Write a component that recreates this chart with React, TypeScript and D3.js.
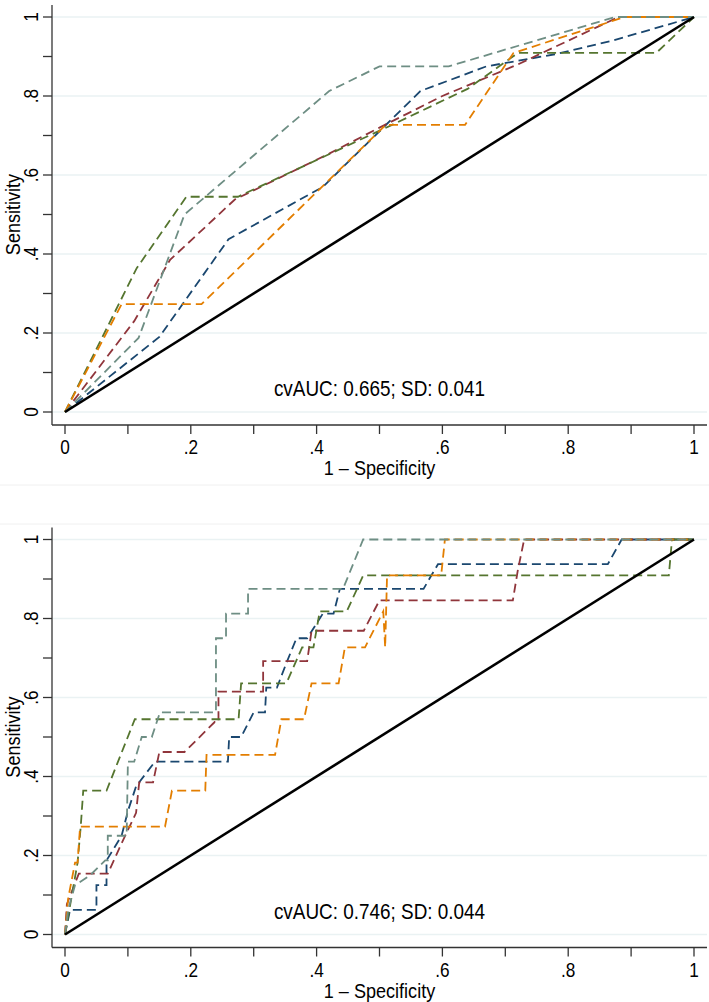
import React from "react";
import * as d3 from "d3";

// ROC curves, [1 - specificity, sensitivity]
const topNavy = [[0, 0], [0.15, 0.19], [0.26, 0.4375], [0.41, 0.57], [0.565, 0.8125], [0.67, 0.875], [0.78, 0.906], [0.87, 0.94], [1, 1]];
const topMaroon = [[0, 0], [0.11, 0.23], [0.167, 0.385], [0.27, 0.538], [0.42, 0.654], [0.5, 0.72], [0.6, 0.8], [0.72, 0.88], [0.88, 1], [1, 1]];
const topGreen = [[0, 0], [0.114, 0.364], [0.193, 0.545], [0.275, 0.545], [0.52, 0.727], [0.64, 0.818], [0.72, 0.909], [0.94, 0.909], [1, 1]];
const topOrange = [[0, 0], [0.09, 0.273], [0.217, 0.273], [0.51, 0.727], [0.636, 0.727], [0.713, 0.909], [0.89, 1], [1, 1]];
const topTeal = [[0, 0], [0.117, 0.1875], [0.19, 0.5], [0.42, 0.8125], [0.5, 0.875], [0.61, 0.875], [0.875, 1], [1, 1]];

const botNavy = [[0, 0], [0.008, 0.0625], [0.05, 0.0625], [0.05, 0.125], [0.066, 0.125], [0.066, 0.1875], [0.09, 0.25], [0.1, 0.3125], [0.113, 0.375], [0.143, 0.4375], [0.259, 0.4375], [0.261, 0.5], [0.28, 0.5], [0.3, 0.5625], [0.318, 0.5625], [0.32, 0.625], [0.337, 0.625], [0.352, 0.6875], [0.368, 0.75], [0.385, 0.75], [0.41, 0.8125], [0.427, 0.8125], [0.437, 0.875], [0.57, 0.875], [0.593, 0.9375], [0.863, 0.9375], [0.885, 1], [1, 1]];
const botMaroon = [[0, 0], [0.003, 0.077], [0.016, 0.13], [0.022, 0.154], [0.068, 0.154], [0.09, 0.231], [0.113, 0.308], [0.118, 0.385], [0.14, 0.385], [0.15, 0.462], [0.19, 0.462], [0.238, 0.538], [0.244, 0.538], [0.244, 0.615], [0.315, 0.615], [0.315, 0.692], [0.385, 0.692], [0.392, 0.769], [0.475, 0.769], [0.5, 0.846], [0.712, 0.846], [0.72, 0.923], [0.73, 1], [1, 1]];
const botGreen = [[0, 0], [0.01, 0.091], [0.02, 0.182], [0.025, 0.273], [0.029, 0.364], [0.066, 0.364], [0.111, 0.545], [0.276, 0.545], [0.28, 0.636], [0.352, 0.636], [0.377, 0.727], [0.395, 0.727], [0.405, 0.818], [0.448, 0.818], [0.474, 0.909], [0.96, 0.909], [0.965, 1], [1, 1]];
const botOrange = [[0, 0], [0.005, 0.091], [0.016, 0.182], [0.02, 0.182], [0.024, 0.273], [0.159, 0.273], [0.17, 0.364], [0.223, 0.364], [0.225, 0.455], [0.334, 0.455], [0.344, 0.545], [0.38, 0.545], [0.392, 0.636], [0.435, 0.636], [0.445, 0.727], [0.477, 0.727], [0.506, 0.818], [0.509, 0.727], [0.512, 0.909], [0.598, 0.909], [0.604, 1], [1, 1]];
const botTeal = [[0, 0], [0.005, 0.0625], [0.016, 0.125], [0.04, 0.15], [0.064, 0.1875], [0.068, 0.1875], [0.068, 0.25], [0.098, 0.25], [0.1, 0.4375], [0.11, 0.4375], [0.122, 0.5], [0.138, 0.5], [0.151, 0.5625], [0.24, 0.5625], [0.24, 0.75], [0.256, 0.75], [0.256, 0.8125], [0.291, 0.8125], [0.291, 0.875], [0.442, 0.875], [0.474, 1], [1, 1]];

const colors = ["#1a476f", "#90353b", "#55752f", "#e37e00", "#6e8e84"];
const majorTicks = [0, 0.2, 0.4, 0.6, 0.8, 1];
const tickLabels = ["0", ".2", ".4", ".6", ".8", "1"];
const minorTicks = [0.1, 0.3, 0.5, 0.7, 0.9];
const aucLabels = ["cvAUC: 0.665; SD: 0.041", "cvAUC: 0.746; SD: 0.044"];
const panels = [
  [topNavy, topMaroon, topGreen, topOrange, topTeal],
  [botNavy, botMaroon, botGreen, botOrange, botTeal],
];

const W = 709;
const H = 1002;
const font = "'Liberation Sans', Arial, Helvetica, sans-serif";
const sq = "scale(0.86,1)"; // narrow look of the original font

function Panel({ curves, label, off }) {
  const x = d3.scaleLinear().domain([0, 1]).range([65, 694]);
  const y = d3.scaleLinear().domain([0, 1]).range([412 + off, 17 + off]);
  const line = d3.line().x((d) => x(d[0])).y((d) => y(d[1]));
  const left = 52, right = 707, top = 5 + off, bottom = 425 + off;
  const allTicks = majorTicks.concat(minorTicks);
  return (
    <g>
      {majorTicks.map((t) => (
        <line key={"g" + t} x1={left} x2={right} y1={y(t)} y2={y(t)} stroke="#eaf2f3" strokeWidth={1.5} />
      ))}
      {curves.map((c, i) => (
        <path key={i} d={line(c)} fill="none" stroke={colors[i]} strokeWidth={1.8} strokeDasharray="9 5" />
      ))}
      <line x1={x(0)} y1={y(0)} x2={x(1)} y2={y(1)} stroke="#000" strokeWidth={2.6} />
      <line x1={left} x2={left} y1={top} y2={bottom} stroke="#333" strokeWidth={1.3} />
      <line x1={left} x2={right} y1={bottom} y2={bottom} stroke="#333" strokeWidth={1.3} />
      {allTicks.map((t) => (
        <g key={"t" + t}>
          <line x1={left} x2={left - 9} y1={y(t)} y2={y(t)} stroke="#333" strokeWidth={1.3} />
          <line x1={x(t)} x2={x(t)} y1={bottom} y2={bottom + 9} stroke="#333" strokeWidth={1.3} />
        </g>
      ))}
      {majorTicks.map((t, i) => (
        <g key={"l" + t}>
          <text transform={`translate(38,${y(t)}) rotate(-90) ${sq}`} textAnchor="middle" fontSize={20}>{tickLabels[i]}</text>
          <text transform={`translate(${x(t)},${bottom + 29}) ${sq}`} textAnchor="middle" fontSize={20}>{tickLabels[i]}</text>
        </g>
      ))}
      <text transform={`translate(20,${(y(0) + y(1)) / 2}) rotate(-90) ${sq}`} textAnchor="middle" fontSize={21}>Sensitivity</text>
      <text transform={`translate(${(x(0) + x(1)) / 2},${bottom + 50}) ${sq}`} textAnchor="middle" fontSize={21}>1 – Specificity</text>
      <text transform={`translate(${x(0.5)},${y(0) - 16}) ${sq}`} textAnchor="middle" fontSize={22}>{label}</text>
    </g>
  );
}

export default function App() {
  return (
    <svg width={W} height={H} style={{ position: "absolute", left: 0, top: 0, background: "#fff" }} fontFamily={font}>
      <line x1={0} x2={W} y1={485} y2={485} stroke="#f0f0f0" />
      <line x1={0} x2={W} y1={524} y2={524} stroke="#f0f0f0" />
      {panels.map((p, i) => (
        <Panel key={i} curves={p} label={aucLabels[i]} off={i * 522.5} />
      ))}
    </svg>
  );
}
